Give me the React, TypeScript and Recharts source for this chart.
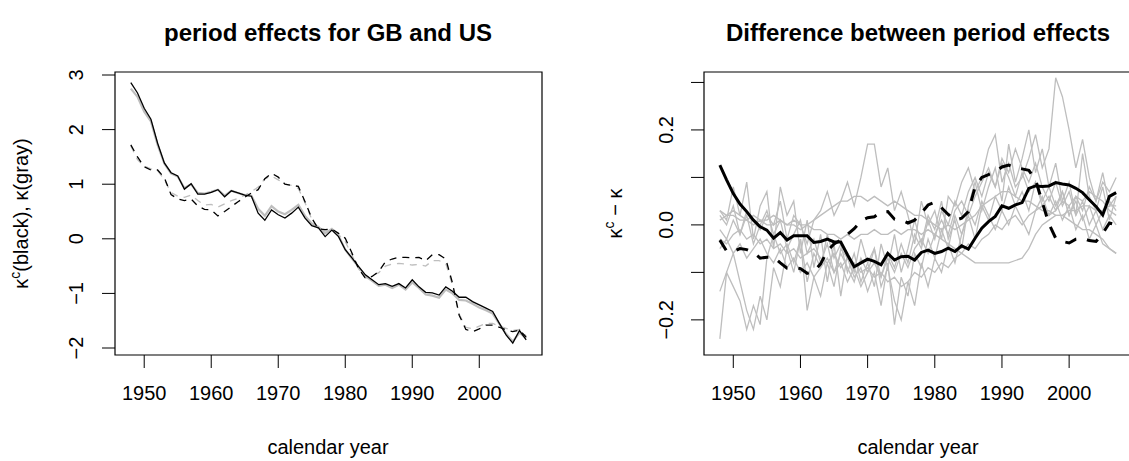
import { LineChart, Line, XAxis, YAxis, ReferenceArea } from "recharts";

const FONT = '"Liberation Sans", Arial, Helvetica, sans-serif';
const GRAY = "#bebebe";
const INK = "#000000";

// calendar years 1948..2007
const YEARS = Array.from({ length: 60 }, (_, i) => 1948 + i);
const X_TICKS = [1950, 1960, 1970, 1980, 1990, 2000];

// left panel: period effects (kappa^c black, kappa gray; GB solid, US dashed)
const gbBlack = [
  2.86, 2.67, 2.39, 2.19, 1.75, 1.39, 1.21, 1.15, 0.91, 1.01,
  0.82, 0.82, 0.85, 0.9, 0.77, 0.88, 0.84, 0.8, 0.78, 0.47,
  0.34, 0.53, 0.44, 0.38, 0.47, 0.58, 0.38, 0.24, 0.2, 0.04,
  0.16, 0.04, -0.2, -0.35, -0.51, -0.66, -0.75, -0.84, -0.82, -0.87,
  -0.82, -0.9, -0.75, -0.88, -0.98, -0.99, -1.03, -0.88, -0.96, -1.07,
  -1.07, -1.15, -1.21, -1.27, -1.33, -1.55, -1.76, -1.91, -1.68, -1.85,
];
const gbGray = [
  2.75, 2.6, 2.33, 2.15, 1.72, 1.38, 1.2, 1.14, 0.93, 1.0,
  0.84, 0.83, 0.86, 0.9, 0.79, 0.88, 0.84, 0.8, 0.79, 0.55,
  0.42, 0.6, 0.5, 0.45, 0.53, 0.62, 0.42, 0.28, 0.22, 0.1,
  0.18, 0.06, -0.2, -0.36, -0.52, -0.68, -0.77, -0.86, -0.84, -0.9,
  -0.84, -0.93, -0.8, -0.9, -1.02, -1.04, -1.08, -0.93, -1.0, -1.12,
  -1.13, -1.19, -1.26, -1.31, -1.37, -1.56, -1.74, -1.88, -1.72, -1.82,
];
const usBlack = [
  1.72, 1.5, 1.32, 1.26, 1.26, 1.12, 0.81, 0.73, 0.7, 0.73,
  0.6, 0.54, 0.53, 0.42, 0.5, 0.59, 0.68, 0.76, 0.84, 0.9,
  1.1, 1.2, 1.13, 1.0, 0.98, 0.96, 0.68, 0.38, 0.18, 0.17,
  0.18, 0.1, 0.01, -0.26, -0.55, -0.72, -0.69, -0.6, -0.42, -0.37,
  -0.34, -0.34, -0.35, -0.34, -0.4, -0.29, -0.29, -0.37, -0.81, -1.4,
  -1.66, -1.7, -1.65, -1.58, -1.58, -1.62, -1.67, -1.7, -1.67, -1.8,
];
const usGray = [
  1.7, 1.45, 1.33, 1.28, 1.25, 1.08, 0.85, 0.78, 0.76, 0.8,
  0.7, 0.62, 0.63, 0.58, 0.64, 0.7, 0.74, 0.8, 0.86, 0.95,
  1.1, 1.15, 1.08, 1.0, 0.98, 0.92, 0.66, 0.36, 0.18, 0.14,
  0.16, 0.08, -0.05, -0.3, -0.55, -0.72, -0.68, -0.62, -0.5, -0.46,
  -0.45, -0.46, -0.48, -0.47, -0.5, -0.4, -0.4, -0.45, -0.85, -1.38,
  -1.62, -1.65, -1.6, -1.55, -1.55, -1.6, -1.64, -1.68, -1.66, -1.78,
];

// right panel: differences kappa^c - kappa
const diffGB = [
  0.126, 0.095, 0.066, 0.044, 0.028, 0.01, -0.004, -0.011, -0.028, -0.016,
  -0.032, -0.023, -0.023, -0.023, -0.037, -0.035, -0.03, -0.036, -0.036, -0.063,
  -0.088, -0.08, -0.072, -0.077, -0.084, -0.06, -0.074, -0.067, -0.066, -0.074,
  -0.058, -0.053, -0.06, -0.056, -0.049, -0.056, -0.044, -0.051, -0.028, -0.007,
  0.007, 0.018, 0.04, 0.035, 0.042, 0.047, 0.077, 0.082, 0.081, 0.082,
  0.089, 0.086, 0.084, 0.077, 0.068, 0.053, 0.039, 0.021, 0.06, 0.068,
];
const diffUS = [
  -0.032, -0.055, -0.056, -0.05, -0.052, -0.058, -0.07, -0.068, -0.068, -0.08,
  -0.091, -0.09, -0.092, -0.102, -0.098, -0.082, -0.055, -0.04, -0.032, -0.02,
  -0.008, 0.008, 0.015, 0.017, 0.027, 0.028, 0.012, 0.01, 0.004, 0.01,
  0.025, 0.042, 0.048, 0.036, 0.022, 0.01, 0.014, 0.028, 0.08, 0.1,
  0.106, 0.112, 0.122, 0.126, 0.12, 0.118, 0.115, 0.095, 0.048, 0.002,
  -0.028, -0.035, -0.038, -0.03, -0.028, -0.033, -0.035, -0.018, 0.004, 0.0,
];
// other countries (gray)
const diffA = [
  0.02, 0.0, 0.04, -0.02, 0.03, 0.01, -0.01, 0.02, 0.0, 0.05,
  -0.03, 0.02, 0.0, -0.04, 0.01, 0.03, 0.07, 0.02, 0.05, 0.09,
  0.04, 0.1, 0.17, 0.17, 0.08, 0.12, 0.03, 0.07, 0.02, -0.04,
  0.05, 0.0, 0.03, -0.03, 0.06, 0.04, 0.09, 0.12, 0.07, 0.1,
  0.16, 0.19, 0.09, 0.13, 0.08, 0.1, 0.14, 0.19, 0.12, 0.16,
  0.31, 0.27, 0.2, 0.12, 0.18, 0.1, 0.05, 0.11, 0.04, 0.06,
];
const diffB = [
  -0.24, -0.1, -0.06, -0.12, -0.18, -0.22, -0.15, -0.2, -0.09, -0.13,
  -0.05, -0.1, -0.03, -0.12, -0.06, -0.09, -0.02, -0.07, -0.04, -0.1,
  -0.06, -0.12, -0.08, -0.05, -0.13, -0.09, -0.16, -0.2, -0.12, -0.17,
  -0.08, -0.13, -0.07, -0.1, -0.04, -0.08, -0.02, 0.02, -0.03, 0.04,
  0.01, 0.06, 0.03, 0.08, 0.04, 0.07, 0.03, 0.09, 0.05, 0.08,
  0.04, 0.07, 0.02, 0.06, 0.03, 0.08, 0.05, 0.09, 0.07, 0.1,
];
const diffC = [
  -0.14, -0.1, -0.13, -0.16, -0.22, -0.17, -0.21, -0.07, -0.02, -0.06,
  -0.04, -0.08, -0.03, -0.18, -0.11, -0.15, -0.08, -0.13, -0.05, -0.07,
  -0.11, -0.09, -0.14, -0.1, -0.17, -0.08, -0.21, -0.11, -0.15, -0.06,
  -0.09, -0.03, -0.07, -0.01, -0.05, 0.02, -0.02, 0.03, 0.0, 0.05,
  0.02, -0.01, 0.03, 0.0, 0.04, 0.01, -0.02, 0.03, 0.06, 0.02,
  0.05, 0.01, 0.04, -0.01, 0.02, -0.03, 0.0, -0.04, -0.05, -0.06,
];
const diffD = [
  0.01, 0.02, 0.02, 0.01, 0.01, 0.0, 0.01, 0.0, 0.0, 0.01,
  0.0, 0.0, -0.01, 0.0, -0.01, -0.01, -0.02, -0.02, -0.03, -0.02,
  -0.03, -0.02, -0.02, -0.01, -0.02, -0.02, -0.01, -0.02, -0.01, -0.01,
  -0.02, -0.01, -0.02, -0.03, -0.04, -0.05, -0.06, -0.07, -0.08, -0.08,
  -0.08, -0.08, -0.08, -0.08, -0.075, -0.07, -0.05, -0.02, 0.0, 0.01,
  0.02, 0.02, 0.03, 0.03, 0.04, 0.04, 0.03, 0.03, 0.04, 0.04,
];
const diffE = [
  0.03, 0.02, 0.03, 0.02, 0.01, 0.02, 0.01, 0.01, 0.02, 0.01,
  0.0, 0.01, 0.0, 0.0, 0.01, 0.02, 0.03, 0.04, 0.05, 0.05,
  0.06, 0.06, 0.05, 0.06, 0.05, 0.04, 0.05, 0.04, 0.03, 0.02,
  0.02, 0.01, 0.0, -0.01, 0.0, -0.01, 0.0, 0.01, 0.02, 0.04,
  0.05, 0.06, 0.07, 0.07, 0.06, 0.05, 0.05, 0.04, 0.03, 0.03,
  0.02, 0.02, 0.01, 0.0, -0.01, -0.01, -0.02, -0.03, -0.05, -0.06,
];
const diffF = [
  -0.01, -0.03, 0.01, -0.02, 0.02, -0.04, 0.0, 0.03, -0.02, 0.01,
  -0.05, -0.02, 0.01, -0.06, -0.03, -0.08, -0.04, -0.1, -0.06, -0.09,
  -0.12, -0.07, -0.1, -0.05, -0.11, -0.06, -0.09, -0.04, -0.08, -0.02,
  -0.05, 0.01, -0.03, 0.03, 0.0, 0.05, 0.02, 0.07, 0.1, 0.06,
  0.11, 0.08, 0.13, 0.1, 0.06, 0.11, 0.07, 0.09, 0.04, 0.06,
  0.03, 0.07, 0.02, 0.05, 0.01, 0.04, 0.0, 0.03, 0.05, 0.03,
];
const diffG = [
  -0.05, -0.03, -0.06, -0.04, -0.07, -0.05, -0.03, -0.06, -0.08, -0.05,
  -0.09, -0.07, -0.1, -0.08, -0.11, -0.09, -0.07, -0.1, -0.08, -0.12,
  -0.09, -0.13, -0.1, -0.08, -0.11, -0.07, -0.1, -0.06, -0.09, -0.05,
  -0.03, -0.06, -0.02, 0.01, -0.02, 0.03, 0.05, 0.02, 0.06, 0.09,
  0.12, 0.08, 0.14, 0.11, 0.16, 0.12, 0.09, 0.13, 0.08, 0.05,
  0.09, 0.04, 0.07, 0.02, 0.05, 0.0, 0.03, -0.01, 0.02, 0.0,
];
const diffH = [
  0.03, 0.01, 0.08, 0.02, 0.09, -0.03, 0.04, 0.07, -0.05, 0.08,
  0.02, 0.05, -0.06, 0.01, -0.09, -0.02, -0.12, -0.04, -0.15, -0.06,
  -0.1, -0.03, -0.08, -0.13, -0.04, -0.09, -0.02, -0.1, -0.05, 0.01,
  -0.04, 0.02, -0.01, 0.05, -0.03, 0.01, -0.05, 0.04, 0.09, 0.03,
  0.08, 0.12, 0.05, 0.17, 0.09, 0.14, 0.2, 0.11, 0.16, 0.08,
  0.13, 0.05, 0.09, 0.02, 0.15, 0.06, 0.03, 0.08, 0.01, 0.06,
];
const diffI = [
  -0.03, -0.04, -0.02, -0.01, -0.03, -0.02, -0.04, -0.03, -0.05, -0.04,
  -0.06, -0.05, -0.07, -0.06, -0.05, -0.07, -0.08, -0.06, -0.09, -0.07,
  -0.08, -0.1, -0.09, -0.11, -0.1, -0.12, -0.11, -0.13, -0.12, -0.1,
  -0.11, -0.09, -0.1, -0.08, -0.09, -0.07, -0.06, -0.04, -0.05, -0.03,
  -0.02, 0.0, -0.01, 0.01, 0.02, 0.0, 0.02, 0.03, 0.04, 0.02,
  0.03, 0.05, 0.04, 0.06, 0.05, 0.07, 0.06, 0.05, 0.03, 0.02,
];
const grayDiffs = [diffA, diffB, diffC, diffD, diffE, diffF, diffG, diffH, diffI];

const leftData = YEARS.map((year, i) => ({
  year,
  gbBlack: gbBlack[i],
  gbGray: gbGray[i],
  usBlack: usBlack[i],
  usGray: usGray[i],
}));

const rightData = YEARS.map((year, i) => {
  const row: Record<string, number> = { year, gb: diffGB[i], us: diffUS[i] };
  grayDiffs.forEach((s, k) => {
    row[`g${k}`] = s[i];
  });
  return row;
});

const X_DOMAIN: [number, number] = [1945.64, 2009.36];
const LEFT_Y: [number, number] = [-2.128, 3.055];
const RIGHT_Y: [number, number] = [-0.274, 0.322];

const fmt = (v: number, digits: number) =>
  (v < 0 ? "\u2212" : "") + Math.abs(v).toFixed(digits);

function RotTick(props: any) {
  const { x, y, payload, show, digits } = props;
  if (!show.includes(payload.value)) return null;
  return (
    <text
      transform={`translate(${x},${y}) rotate(-90)`}
      textAnchor="middle"
      dy="0.358em"
      fontSize={20}
      fontFamily={FONT}
      fill={INK}
    >
      {fmt(payload.value, digits)}
    </text>
  );
}

const xTick = { fill: INK, fontSize: 20, fontFamily: FONT };

export default function App() {
  return (
    <div style={{ position: "relative", width: 1129, height: 461, overflow: "hidden", background: "#fff" }}>
      <style>{`body{margin:0}`}</style>

      <div style={{ position: "absolute", left: 0, top: 0 }}>
        <LineChart width={560} height={461} data={leftData} margin={{ top: 72, right: 18, bottom: 66, left: 70 }}>
          <XAxis
            dataKey="year"
            type="number"
            domain={X_DOMAIN}
            ticks={X_TICKS}
            interval={0}
            allowDataOverflow
            axisLine={false}
            tickLine={{ stroke: INK }}
            tickSize={13}
            tickMargin={18}
            tick={xTick}
            height={40}
          />
          <YAxis
            type="number"
            domain={LEFT_Y}
            ticks={[-2, -1, 0, 1, 2, 3]}
            interval={0}
            allowDataOverflow
            axisLine={false}
            tickLine={{ stroke: INK }}
            tickSize={13}
            tickMargin={26}
            width={45}
            tick={(p: any) => <RotTick {...p} show={[-2, -1, 0, 1, 2, 3]} digits={0} />}
          />
          <ReferenceArea
            x1={X_DOMAIN[0]}
            x2={X_DOMAIN[1]}
            y1={LEFT_Y[0]}
            y2={LEFT_Y[1]}
            fill="none"
            stroke={INK}
            strokeWidth={1.2}
            ifOverflow="visible"
          />
          <Line dataKey="gbGray" stroke={GRAY} strokeWidth={2.2} dot={false} activeDot={false} isAnimationActive={false} />
          <Line dataKey="usGray" stroke={GRAY} strokeWidth={1.3} strokeDasharray="7 6" dot={false} activeDot={false} isAnimationActive={false} />
          <Line dataKey="gbBlack" stroke={INK} strokeWidth={1.3} dot={false} activeDot={false} isAnimationActive={false} />
          <Line dataKey="usBlack" stroke={INK} strokeWidth={1.3} strokeDasharray="7 6" dot={false} activeDot={false} isAnimationActive={false} />
        </LineChart>
      </div>

      <div style={{ position: "absolute", left: 564, top: 0 }}>
        <LineChart width={580} height={461} data={rightData} margin={{ top: 72, right: 12, bottom: 66, left: 80 }}>
          <XAxis
            dataKey="year"
            type="number"
            domain={X_DOMAIN}
            ticks={X_TICKS}
            interval={0}
            allowDataOverflow
            axisLine={false}
            tickLine={{ stroke: INK }}
            tickSize={13}
            tickMargin={18}
            tick={xTick}
            height={40}
          />
          <YAxis
            type="number"
            domain={RIGHT_Y}
            ticks={[-0.2, -0.1, 0, 0.1, 0.2, 0.3]}
            interval={0}
            allowDataOverflow
            axisLine={false}
            tickLine={{ stroke: INK }}
            tickSize={13}
            tickMargin={25}
            width={60}
            tick={(p: any) => <RotTick {...p} show={[-0.2, 0, 0.2]} digits={1} />}
          />
          <ReferenceArea
            x1={X_DOMAIN[0]}
            x2={X_DOMAIN[1]}
            y1={RIGHT_Y[0]}
            y2={RIGHT_Y[1]}
            fill="none"
            stroke={INK}
            strokeWidth={1.2}
            ifOverflow="visible"
          />
          {grayDiffs.map((_, k) => (
            <Line
              key={k}
              dataKey={`g${k}`}
              stroke={GRAY}
              strokeWidth={1.3}
              dot={false}
              activeDot={false}
              isAnimationActive={false}
            />
          ))}
          <Line dataKey="gb" stroke={INK} strokeWidth={3} dot={false} activeDot={false} isAnimationActive={false} />
          <Line dataKey="us" stroke={INK} strokeWidth={3} strokeDasharray="12 11" dot={false} activeDot={false} isAnimationActive={false} />
        </LineChart>
      </div>

      <svg
        width={1129}
        height={461}
        style={{ position: "absolute", left: 0, top: 0, pointerEvents: "none" }}
        fontFamily={FONT}
      >
        <text x={328} y={41} textAnchor="middle" fontSize={24} fontWeight="bold">
          period effects for GB and US
        </text>
        <text x={918} y={41} textAnchor="middle" fontSize={24} fontWeight="bold">
          Difference between period effects
        </text>
        <text x={328} y={454} textAnchor="middle" fontSize={20}>
          calendar year
        </text>
        <text x={918} y={454} textAnchor="middle" fontSize={20}>
          calendar year
        </text>
        <text transform="translate(27.5,213.5) rotate(-90)" textAnchor="middle" fontSize={20}>
          κ<tspan dy={-8} fontSize={14}>c</tspan>
          <tspan dy={8}>(black), κ(gray)</tspan>
        </text>
        <text transform="translate(622,213.5) rotate(-90)" textAnchor="middle" fontSize={20}>
          κ<tspan dy={-8} fontSize={14}>c</tspan>
          <tspan dy={8}>{" \u2212 κ"}</tspan>
        </text>
      </svg>
    </div>
  );
}
